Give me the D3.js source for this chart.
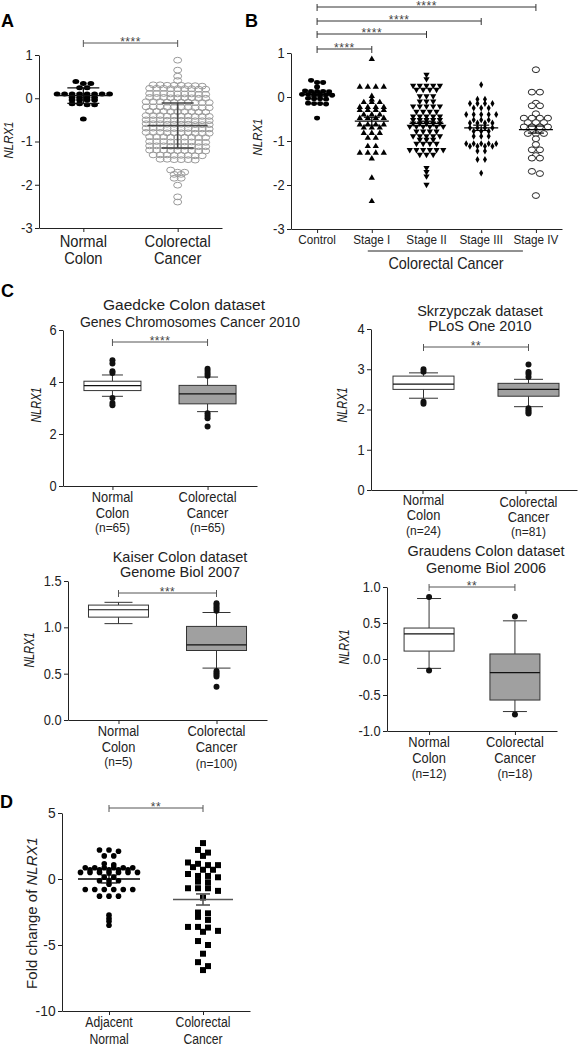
<!DOCTYPE html>
<html><head><meta charset="utf-8">
<script src="https://cdn.jsdelivr.net/npm/d3@7"></script>
<style>
body{margin:0;background:#fff;}
svg{display:block;font-family:"Liberation Sans", Arial, Helvetica, sans-serif;}
</style></head><body>
<svg id="fig" width="581" height="1047"></svg>
<script>
// ================= DATA =================
// Panel A
const aCategories = ["Normal Colon", "Colorectal Cancer"];
const aLabelLines = [["Normal", "Colon"], ["Colorectal", "Cancer"]];
const aTicks = [1, 0, -1, -2, -3];
const aNormal = [0.39,0.34,0.34,0.24,0.24,0.10,0.10,0.10,0.10,0.10,0.10,0.10,0.10,0.02,0.02,0.02,0.02,-0.04,-0.04,-0.04,-0.04,-0.13,-0.13,-0.15,-0.15,-0.48];
const aCancer = [
 0.88, 0.65, 0.51, 0.41,
 0.31,0.30,0.29,0.31,0.30,0.28,0.30,0.29,
 0.23,0.22,0.21,0.23,0.22,0.22,0.21,0.23,0.22,
 0.11,0.10,0.09,0.11,0.10,0.10,0.09,0.11,0.10,
 0.02,0.01,0.00,0.02,0.01,0.01,0.00,0.02,0.01,
 -0.08,-0.09,-0.10,-0.08,-0.09,-0.09,-0.10,-0.08,-0.09,-0.10,
 -0.20,-0.21,-0.22,-0.20,-0.21,-0.21,-0.22,-0.20,-0.21,-0.22,
 -0.30,-0.31,-0.32,-0.30,-0.31,-0.31,-0.32,-0.30,-0.31,
 -0.40,-0.41,-0.42,-0.40,-0.41,-0.41,-0.42,-0.40,-0.41,-0.42,
 -0.50,-0.51,-0.52,-0.50,-0.51,-0.51,-0.52,-0.50,-0.51,-0.52,
 -0.59,-0.60,-0.61,-0.59,-0.60,-0.60,-0.61,-0.59,-0.60,-0.61,
 -0.69,-0.70,-0.71,-0.69,-0.70,-0.70,-0.71,-0.69,-0.70,-0.71,
 -0.79,-0.80,-0.81,-0.79,-0.80,-0.80,-0.81,-0.79,-0.80,-0.81,
 -0.89,-0.90,-0.91,-0.89,-0.90,-0.90,-0.91,-0.89,-0.90,
 -1.00,-1.01,-1.02,-1.00,-1.01,-1.01,-1.02,-1.00,-1.01,
 -1.10,-1.11,-1.12,-1.10,-1.11,-1.11,-1.12,-1.10,-1.11,
 -1.20,-1.21,-1.22,-1.20,-1.21,-1.21,-1.22,-1.20,-1.21,
 -1.31,-1.32,-1.33,-1.31,-1.32,-1.32,-1.33,-1.31,
 -1.41,-1.42,-1.43,-1.41,-1.42,-1.42,
 -1.66,-1.71,-1.71,-1.76,-1.76,-1.85,-1.85,-2.01,-2.28,-2.40
];
const aMean = [0.06, -0.63];
const aSD = [0.18, 0.52];

// Panel B
const bCategories = ["Control", "Stage I", "Stage II", "Stage III", "Stage IV"];
const bTicks = [1, 0, -1, -2, -3];
const bControl = [0.38,0.33,0.33,0.23,0.14,0.13,0.13,0.12,0.13,0.05,0.06,0.05,0.04,0.05,0.06,-0.04,-0.03,-0.04,-0.05,-0.15,-0.14,-0.15,-0.16,-0.48];
const bStage1 = [0.86,0.23,0.23,0.23,0.23,0.02,-0.06,-0.12,-0.12,-0.12,-0.23,-0.23,-0.23,-0.23,-0.30,-0.30,-0.30,-0.30,-0.40,-0.40,-0.40,-0.48,-0.48,-0.48,-0.48,-0.63,-0.63,-0.63,-0.63,-0.70,-0.70,-0.70,-0.82,-0.82,-0.82,-0.93,-0.93,-1.12,-1.12,-1.27,-1.27,-1.27,-1.27,-1.40,-1.84,-2.37];
const bStage2 = [0.51,0.41,0.26,0.26,0.26,0.26,0.26,0.17,0.17,0.17,0.17,0.02,0.02,0.02,-0.10,-0.10,-0.10,-0.21,-0.21,-0.21,-0.21,-0.21,-0.33,-0.33,-0.33,-0.33,-0.44,-0.44,-0.44,-0.44,-0.44,-0.52,-0.52,-0.52,-0.52,-0.52,-0.60,-0.60,-0.60,-0.60,-0.60,-0.67,-0.67,-0.67,-0.67,-0.67,-0.67,-0.78,-0.78,-0.78,-0.78,-0.89,-0.89,-0.89,-0.89,-0.89,-0.97,-0.97,-0.97,-1.06,-1.06,-1.06,-1.06,-1.20,-1.20,-1.20,-1.20,-1.20,-1.20,-1.31,-1.31,-1.31,-1.61,-1.70,-1.80,-1.99];
const bStage3 = [0.28,-0.05,-0.05,-0.15,-0.15,-0.15,-0.15,-0.25,-0.25,-0.25,-0.40,-0.40,-0.40,-0.40,-0.40,-0.52,-0.52,-0.52,-0.59,-0.59,-0.59,-0.59,-0.70,-0.70,-0.70,-0.70,-0.78,-0.78,-0.78,-0.89,-0.89,-0.89,-1.06,-1.06,-1.06,-1.06,-1.06,-1.12,-1.12,-1.12,-1.12,-1.23,-1.23,-1.42,-1.42,-1.73];
const bStage4 = [0.62,0.11,0.11,-0.14,-0.20,-0.20,-0.38,-0.48,-0.48,-0.48,-0.48,-0.58,-0.58,-0.58,-0.68,-0.68,-0.68,-0.68,-0.83,-0.83,-0.83,-0.95,-1.08,-1.20,-1.20,-1.33,-1.39,-1.39,-1.69,-1.74,-2.24];
const bMean = [0.06, -0.55, -0.60, -0.70, -0.74];
const bSEM = [0.04, 0.09, 0.05, 0.06, 0.08];
const bStars = ["****", "****", "****", "****"];

// Panel C (box plots)
const cTitles = [
  ["Gaedcke Colon dataset", "Genes Chromosomes Cancer 2010"],
  ["Skrzypczak dataset", "PLoS One 2010"],
  ["Kaiser Colon dataset", "Genome Biol 2007"],
  ["Graudens Colon dataset", "Genome Biol 2006"]
];
const cCategories = ["Normal Colon", "Colorectal Cancer"];
const cN = [["(n=65)", "(n=65)"], ["(n=24)", "(n=81)"], ["(n=5)", "(n=100)"], ["(n=12)", "(n=18)"]];
const cTicks = [[0, 2, 4, 6], [0, 1, 2, 3, 4], [0.0, 0.5, 1.0, 1.5], [-1.0, -0.5, 0.0, 0.5, 1.0]];
const cDomains = [[0, 6], [0, 4], [0, 1.5], [-1, 1]];
const cStars = ["****", "**", "***", "**"];
const gaedckeNormal = {lo: 3.45, q1: 3.67, med: 3.86, q3: 4.03, hi: 4.27, out: [4.84, 4.71, 4.41, 4.35, 3.38, 3.19, 3.11]};
const gaedckeCancer = {lo: 2.86, q1: 3.16, med: 3.54, q3: 3.87, hi: 4.19, out: [4.51, 4.42, 4.33, 4.24, 2.80, 2.70, 2.61, 2.29]};
const skrzNormal = {lo: 2.28, q1: 2.50, med: 2.63, q3: 2.83, hi: 2.91, out: [3.00, 2.94, 2.19, 2.14]};
const skrzCancer = {lo: 2.07, q1: 2.33, med: 2.50, q3: 2.65, hi: 2.75, out: [3.12, 2.93, 2.88, 2.81, 2.03, 1.98, 1.94, 1.90]};
const kaiserNormal = {lo: 1.04, q1: 1.11, med: 1.19, q3: 1.24, hi: 1.27, out: []};
const kaiserCancer = {lo: 0.56, q1: 0.75, med: 0.81, q3: 1.01, hi: 1.16, out: [1.26, 1.24, 1.22, 1.20, 1.18, 0.53, 0.51, 0.49, 0.47, 0.36]};
const graudensNormal = {lo: -0.13, q1: 0.11, med: 0.35, q3: 0.43, hi: 0.84, out: [0.86, -0.16]};
const graudensCancer = {lo: -0.73, q1: -0.57, med: -0.19, q3: 0.07, hi: 0.53, out: [0.59, -0.77]};

// Panel D
const dCategories = ["Adjacent Normal", "Colorectal Cancer"];
const dLabelLines = [["Adjacent", "Normal"], ["Colorectal", "Cancer"]];
const dTicks = [5, 0, -5, -10];
const dNormal = [2.2,2.2,2.1,1.75,1.75,1.15,1.07,0.85,0.85,0.85,0.85,0.85,0.85,0.7,0.7,0.7,0.7,0.7,0.5,0.5,0.5,0.5,0.5,0.5,0.5,0.13,0.13,-0.13,-0.13,-0.13,-0.4,-0.8,-0.8,-0.8,-0.8,-0.8,-0.8,-1.3,-1.3,-1.3,-2.74,-3.0,-3.2,-3.5];
const dCancer = [2.72,2.2,2.0,1.75,1.25,1.15,1.05,1.05,0.9,0.7,0.7,0.38,0.23,0.23,0.13,-0.2,-0.25,-0.7,-0.7,-0.7,-0.9,-1.4,-2.54,-2.6,-2.87,-3.1,-3.63,-3.63,-3.68,-3.93,-4.0,-4.7,-5.0,-5.66,-6.3,-6.6,-6.9];
const dMean = [0.0, -1.55];
const dSEM = [0.3, 0.42];

// ================= HELPERS =================
const svg = d3.select("#fig");
const INK = "#222";

function txt(g, x, y, s, o = {}) {
  const sx = o.sx ?? 0.92, sy = o.sy ?? 1;
  const t = g.append("text")
    .attr("transform", `translate(${x},${y})` + (o.rot ? ` rotate(${o.rot})` : "") + ` scale(${sx},${sy})`)
    .attr("text-anchor", o.anchor || "middle")
    .attr("font-size", o.size || 14)
    .attr("fill", o.fill || INK);
  if (o.weight) t.attr("font-weight", o.weight);
  if (o.italic) t.attr("font-style", "italic");
  if (o.dy) t.attr("dy", o.dy);
  t.text(s);
  return t;
}

function rowLayout(values, y, rowPx, spacing) {
  const sorted = values.slice().sort((a, b) => b - a);
  const rows = []; let cur = null;
  for (const v of sorted) {
    if (!cur || Math.abs(y(v) - y(cur[0])) > rowPx) { cur = [v]; rows.push(cur); }
    else cur.push(v);
  }
  const out = [];
  rows.forEach(r => r.forEach((v, i) => out.push({v, dx: (i - (r.length - 1) / 2) * spacing})));
  return out;
}

function drawMarkers(g, pts, cx, y, m) {
  pts.forEach(p => {
    const X = cx + p.dx, Y = y(p.v);
    if (m.type === "dot" || m.type === "ring") {
      g.append("ellipse").attr("cx", X).attr("cy", Y).attr("rx", m.rx).attr("ry", m.ry)
        .attr("fill", m.type === "dot" ? (m.color || "#000") : (m.fillc || "none"))
        .attr("stroke", m.type === "ring" ? m.color : "none").attr("stroke-width", m.sw || 1);
    } else {
      const sym = {triUp: d3.symbolTriangle, triDown: d3.symbolTriangle, diamond: d3.symbolDiamond, square: d3.symbolSquare}[m.type];
      g.append("path").attr("d", d3.symbol(sym, m.size)())
        .attr("transform", `translate(${X},${Y})` + (m.type === "triDown" ? " rotate(180)" : ""))
        .attr("fill", m.color || "#000");
    }
  });
}

function errBar(g, cx, y, mean, err, half, cap, color, sw) {
  const s = {stroke: color, "stroke-width": sw};
  const ln = (x1, y1, x2, y2) => { const l = g.append("line").attr("x1", x1).attr("y1", y1).attr("x2", x2).attr("y2", y2); for (const k in s) l.attr(k, s[k]); };
  ln(cx - half, y(mean), cx + half, y(mean));
  ln(cx, y(mean + err), cx, y(mean - err));
  ln(cx - cap, y(mean + err), cx + cap, y(mean + err));
  ln(cx - cap, y(mean - err), cx + cap, y(mean - err));
}

function sigBar(g, x1, x2, yy, label, color = "#555") {
  g.append("line").attr("x1", x1).attr("x2", x2).attr("y1", yy).attr("y2", yy).attr("stroke", color);
  [x1, x2].forEach(x => g.append("line").attr("x1", x).attr("x2", x).attr("y1", yy - 3).attr("y2", yy + 4).attr("stroke", color));
  txt(g, (x1 + x2) / 2, yy + 3, label, {size: 12, sx: 1, fill: "#444"}).attr("letter-spacing", 0.5);
}

function axes(g, y, x, x0, x1, ticks, fmt, tickSize) {
  const ya = g.append("g").attr("transform", `translate(${x0},0)`)
    .call(d3.axisLeft(y).tickValues(ticks).tickSize(4).tickSizeOuter(0).tickFormat(fmt));
  ya.selectAll("text").attr("font-size", tickSize).attr("fill", INK).attr("transform", "scale(0.92,1)")
    .attr("font-family", "Liberation Sans, Arial, sans-serif");
  const xa = g.append("g").attr("transform", `translate(0,${y.range()[0]})`)
    .call(d3.axisBottom(x.copy().range([x0, x1])).tickSize(4).tickSizeOuter(0).tickFormat(""));
  [ya, xa].forEach(a => { a.selectAll("path,line").attr("stroke", INK); });
}

function boxPlot(g, cx, y, b, boxW, capW, fill) {
  const st = "#333";
  const L = (x1, y1, x2, y2) => g.append("line").attr("x1", x1).attr("y1", y1).attr("x2", x2).attr("y2", y2).attr("stroke", st);
  L(cx, y(b.q3), cx, y(b.hi)); L(cx, y(b.q1), cx, y(b.lo));
  L(cx - capW / 2, y(b.hi), cx + capW / 2, y(b.hi));
  L(cx - capW / 2, y(b.lo), cx + capW / 2, y(b.lo));
  g.append("rect").attr("x", cx - boxW / 2).attr("y", y(b.q3)).attr("width", boxW)
    .attr("height", y(b.q1) - y(b.q3)).attr("fill", fill).attr("stroke", st);
  L(cx - boxW / 2, y(b.med), cx + boxW / 2, y(b.med)).attr("stroke", "#111").attr("stroke-width", 1.2);
  b.out.forEach(v => g.append("circle").attr("cx", cx).attr("cy", y(v)).attr("r", 3).attr("fill", "#111"));
}

const intFmt = d => String(d);
const oneDec = d => d.toFixed(1);

// ================= PANEL A =================
{
  const g = svg.append("g");
  const y = d3.scaleLinear().domain([-3, 1]).range([228, 55]);
  const x = d3.scalePoint().domain(aCategories).range([39, 222]).padding(0.47);
  axes(g, y, x, 39, 222, aTicks, intFmt, 14);
  drawMarkers(g, rowLayout(aNormal, y, 2.5, 7.5), x(aCategories[0]), y, {type: "dot", rx: 3.4, ry: 2.5});
  drawMarkers(g, rowLayout(aCancer, y, 2.2, 7), x(aCategories[1]), y, {type: "ring", rx: 4, ry: 2.9, color: "#9a9a9a"});
  errBar(g, x(aCategories[0]), y, aMean[0], aSD[0], 25, 16, "#111", 1.3);
  errBar(g, x(aCategories[1]), y, aMean[1], aSD[1], 30, 16, "#444", 1.6);
  aLabelLines.forEach((ls, i) => ls.forEach((s, j) => txt(g, x(aCategories[i]), 247 + j * 17, s, {size: 16})));
  txt(g, 13, 140, "NLRX1", {size: 14, rot: -90, italic: true, sx: 0.82, sy: 0.95});
  sigBar(g, x(aCategories[0]), x(aCategories[1]), 43, "****");
  txt(g, 1, 27, "A", {size: 18, weight: "bold", anchor: "start", sx: 1, fill: "#000"});
}

// ================= PANEL B =================
{
  const g = svg.append("g");
  const y = d3.scaleLinear().domain([-3, 1]).range([229, 53]);
  const x = d3.scalePoint().domain(bCategories).range([291, 562]).padding(0.477);
  axes(g, y, x, 291, 562, bTicks, intFmt, 14);
  const series = [bControl, bStage1, bStage2, bStage3, bStage4];
  const marks = [
    {type: "dot", rx: 3, ry: 2.4, sp: 6},
    {type: "triUp", size: 17, sp: 8},
    {type: "triDown", size: 17, sp: 6.7},
    {type: "diamond", size: 14, sp: 7.5},
    {type: "ring", rx: 3.6, ry: 2.9, color: "#222", fillc: "#fff", sp: 8}
  ];
  series.forEach((s, i) => {
    drawMarkers(g, rowLayout(s, y, 2.5, marks[i].sp), x(bCategories[i]), y, marks[i]);
    errBar(g, x(bCategories[i]), y, bMean[i], bSEM[i], 17, 8, "#000", 1.2);
  });
  bCategories.forEach(c => txt(g, x(c), 244, c, {size: 13, sx: 0.9}));
  g.append("line").attr("x1", x("Stage I") - 4).attr("x2", x("Stage IV") - 13).attr("y1", 251).attr("y2", 251).attr("stroke", INK);
  txt(g, 446, 269, "Colorectal Cancer", {size: 16, sx: 0.9});
  txt(g, 262, 137, "NLRX1", {size: 14, rot: -90, italic: true, sx: 0.82, sy: 0.95});
  const barY = [49, 34, 21, 7];
  bStars.forEach((s, i) => sigBar(g, x(bCategories[0]), x(bCategories[i + 1]), barY[i], s, "#333"));
  txt(g, 245, 27, "B", {size: 18, weight: "bold", anchor: "start", sx: 1, fill: "#000"});
}

// ================= PANEL C =================
{
  const g = svg.append("g");
  txt(g, 1, 297, "C", {size: 18, weight: "bold", anchor: "start", sx: 1, fill: "#000"});
  const cfg = [
    {yr: [486, 330], xr: [63, 257], pad: 0.52, boxW: 57, capW: 21, data: [gaedckeNormal, gaedckeCancer], fmt: intFmt,
     t1: [184, 310, 15.5], t2: [190, 327, 14], lab: [[502, 518, 532], [502, 518, 532]], ylab: [41, 405], sig: 342},
    {yr: [490, 329], xr: [371, 581], pad: 0.5, boxW: 61, capW: 29, data: [skrzNormal, skrzCancer], fmt: intFmt,
     t1: [480, 316, 14.5], t2: [480, 331, 14.5], lab: [[505, 520, 535], [507, 522, 536]], ylab: [347, 405], sig: 347},
    {yr: [720, 581], xr: [68, 267], pad: 0.515, boxW: 60, capW: 28, data: [kaiserNormal, kaiserCancer], fmt: oneDec,
     t1: [180, 562, 14.5], t2: [180, 577, 14.5], lab: [[736, 752, 766], [736, 752, 768]], ylab: [34, 650], sig: 593},
    {yr: [731, 587], xr: [387, 557], pad: 0.49, boxW: 50, capW: 24, data: [graudensNormal, graudensCancer], fmt: oneDec,
     t1: [486, 556, 14.5], t2: [486, 573, 14.5], lab: [[747, 763, 778], [747, 763, 778]], ylab: [349, 647], sig: 587}
  ];
  cfg.forEach((c, k) => {
    const y = d3.scaleLinear().domain(cDomains[k]).range(c.yr);
    const x = d3.scalePoint().domain(cCategories).range(c.xr).padding(c.pad);
    axes(g, y, x, c.xr[0], k === 1 ? 577 : c.xr[1], cTicks[k], c.fmt, 14);
    boxPlot(g, x(cCategories[0]), y, c.data[0], c.boxW, c.capW, "#fff");
    boxPlot(g, x(cCategories[1]), y, c.data[1], c.boxW, c.capW, "#a0a0a0");
    txt(g, c.t1[0], c.t1[1], cTitles[k][0], {size: c.t1[2], sx: 1.0});
    txt(g, c.t2[0], c.t2[1], cTitles[k][1], {size: c.t2[2], sx: 1.0});
    cCategories.forEach((cat, i) => {
      const words = cat.split(" ");
      txt(g, x(cat), c.lab[i][0], words[0], {size: 14});
      txt(g, x(cat), c.lab[i][1], words[1], {size: 14});
      txt(g, x(cat), c.lab[i][2], cN[k][i], {size: 13});
    });
    txt(g, c.ylab[0], c.ylab[1], "NLRX1", {size: 15, rot: -90, italic: true, sx: 0.73, sy: 0.95});
    sigBar(g, x(cCategories[0]), x(cCategories[1]), c.sig, cStars[k]);
  });
}

// ================= PANEL D =================
{
  const g = svg.append("g");
  const y = d3.scaleLinear().domain([-10, 5]).range([1011, 813]);
  const x = d3.scalePoint().domain(dCategories).range([62, 250]).padding(0.5);
  axes(g, y, x, 62, 250, dTicks, intFmt, 15);
  drawMarkers(g, rowLayout(dNormal, y, 1.5, 9.5), x(dCategories[0]), y, {type: "dot", rx: 2.8, ry: 2.8});
  drawMarkers(g, rowLayout(dCancer, y, 4, 10), x(dCategories[1]), y, {type: "square", size: 36});
  errBar(g, x(dCategories[0]), y, dMean[0], dSEM[0], 31, 8, "#000", 1.3);
  errBar(g, x(dCategories[1]), y, dMean[1], dSEM[1], 30, 7, "#555", 1.6);
  dLabelLines.forEach((ls, i) => ls.forEach((s, j) => txt(g, x(dCategories[i]), 1027 + j * 17, s, {size: 14, sx: 0.87})));
  const yl = txt(g, 37, 913, "", {size: 15, rot: -90, sx: 1.0});
  yl.append("tspan").text("Fold change of ");
  yl.append("tspan").attr("font-style", "italic").text("NLRX1");
  sigBar(g, x(dCategories[0]), x(dCategories[1]), 808, "**");
  txt(g, 0, 808, "D", {size: 18, weight: "bold", anchor: "start", sx: 1, fill: "#000"});
}
</script>
</body></html>
